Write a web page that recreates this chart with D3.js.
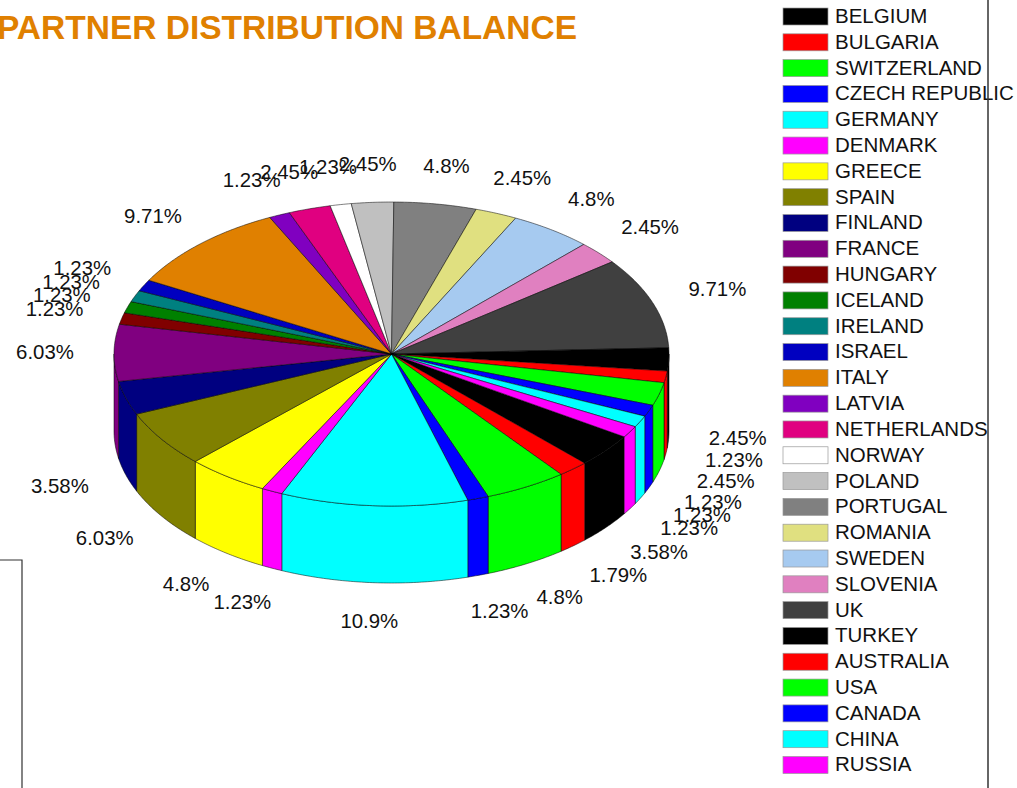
<!DOCTYPE html>
<html>
<head>
<meta charset="utf-8">
<script src="https://cdnjs.cloudflare.com/ajax/libs/d3/7.8.5/d3.min.js"></script>
<style>
    html, body { margin: 0; padding: 0; background: #fff; overflow: hidden; }
    text { font-family: "Liberation Sans", Arial, sans-serif; fill: #111; }
</style>
</head>
<body>
<div id="chart"></div>
<script>
const titleText = "PARTNER DISTRIBUTION BALANCE";

const countries = ["BELGIUM", "BULGARIA", "SWITZERLAND", "CZECH REPUBLIC", "GERMANY", "DENMARK",
    "GREECE", "SPAIN", "FINLAND", "FRANCE", "HUNGARY", "ICELAND", "IRELAND", "ISRAEL", "ITALY",
    "LATVIA", "NETHERLANDS", "NORWAY", "POLAND", "PORTUGAL", "ROMANIA", "SWEDEN", "SLOVENIA", "UK",
    "TURKEY", "AUSTRALIA", "USA", "CANADA", "CHINA", "RUSSIA"];

const shares = [3.58, 1.79, 4.8, 1.23, 10.9, 1.23,
    4.8, 6.03, 3.58, 6.03, 1.23, 1.23, 1.23, 1.23, 9.71,
    1.23, 2.45, 1.23, 2.45, 4.8, 2.45, 4.8, 2.45, 9.71,
    2.45, 1.23, 2.45, 1.23, 1.23, 1.23];

const palette = ["#000000", "#ff0000", "#00ff00", "#0000ff", "#00ffff", "#ff00ff",
    "#ffff00", "#808000", "#000080", "#800080", "#800000", "#008000", "#008080", "#0000c0", "#e08000",
    "#8000c0", "#e00080", "#ffffff", "#c0c0c0", "#808080", "#e0e080", "#a6caf0", "#e080c0", "#404040"];

const width = 1017, height = 788;
const cx = 391.5, cy = 354, rx = 277.5, ry = 152, depth = 77;
const labelRx = rx + 69, labelRy = ry + 38;
const tau = Math.PI * 2;

const svg = d3.select("#chart").append("svg")
    .attr("width", width)
    .attr("height", height)
    .style("display", "block");

const color = d3.scaleOrdinal().domain(countries).range(palette);

// first slice starts 33deg below the 3 o'clock point, going clockwise
const pie = d3.pie().sort(null).value(d => d.share)
    .startAngle((33 + 90) * Math.PI / 180)
    .endAngle((33 + 90 + 360) * Math.PI / 180);

const slices = pie(countries.map((name, i) => ({name: name, share: shares[i]})));

// screen angle, 0 at 3 o'clock and growing clockwise
const toT = a => a - Math.PI / 2;
const rim = (t, dy) => [cx + rx * Math.cos(t), cy + dy + ry * Math.sin(t)];
const line = d3.line();

const arcPoints = (t0, t1, dy) => {
    const n = Math.max(2, Math.ceil(Math.abs(t1 - t0) / 0.01));
    return d3.range(n + 1).map(i => rim(t0 + (t1 - t0) * i / n, dy));
};

// side walls, only the front half of the rim can be seen
const walls = [];
slices.forEach(s => {
    [0, tau].forEach(k => {
        const t0 = Math.max(toT(s.startAngle), k);
        const t1 = Math.min(toT(s.endAngle), k + Math.PI);
        if (t1 > t0) walls.push({name: s.data.name, t0: t0, t1: t1});
    });
});

svg.append("g").selectAll("path")
    .data(walls)
    .join("path")
    .attr("d", d => line(arcPoints(d.t0, d.t1, 0).concat(arcPoints(d.t1, d.t0, depth))) + "Z")
    .attr("fill", d => color(d.name))
    .attr("stroke", "#000")
    .attr("stroke-width", 0.5);

// top face
svg.append("g").selectAll("path")
    .data(slices)
    .join("path")
    .attr("d", d => line([[cx, cy]].concat(arcPoints(toT(d.startAngle), toT(d.endAngle), 0))) + "Z")
    .attr("fill", d => color(d.data.name))
    .attr("stroke", "#000")
    .attr("stroke-width", 0.5);

// percent labels, pushed down by the wall on the front half
svg.append("g").selectAll("text")
    .data(slices)
    .join("text")
    .attr("x", d => cx + labelRx * Math.cos(toT((d.startAngle + d.endAngle) / 2)))
    .attr("y", d => {
        const s = Math.sin(toT((d.startAngle + d.endAngle) / 2));
        return cy + 1.5 + labelRy * s + (s > 0 ? depth : 0);
    })
    .attr("text-anchor", "middle")
    .attr("dominant-baseline", "middle")
    .attr("font-size", 20.4)
    .text(d => d.data.share + "%");

// legend
const legendY = d3.scaleLinear().domain([0, countries.length - 1]).range([16.5, 765]);

const legend = svg.append("g").selectAll("g")
    .data(countries)
    .join("g")
    .attr("transform", (d, i) => "translate(783," + legendY(i) + ")");

legend.append("rect")
    .attr("y", -8.5)
    .attr("width", 45)
    .attr("height", 17)
    .attr("fill", d => color(d))
    .attr("stroke", "#999")
    .attr("stroke-width", 0.7);

legend.append("text")
    .attr("x", 52)
    .attr("y", 1)
    .attr("dominant-baseline", "middle")
    .attr("font-size", 20.5)
    .text(d => d);

// title, cut by the left edge of the page
svg.append("text")
    .attr("x", -3)
    .attr("y", 39)
    .attr("font-size", 33.5)
    .attr("font-weight", "bold")
    .style("fill", "#e08000")
    .text(titleText);

// frame lines left over from the page around the chart
svg.append("path")
    .attr("d", line([[988, 0], [988, height]]))
    .attr("fill", "none")
    .attr("stroke", "#333")
    .attr("stroke-width", 1.5);

svg.append("path")
    .attr("d", line([[0, 560], [22, 560], [22, height]]))
    .attr("fill", "none")
    .attr("stroke", "#333")
    .attr("stroke-width", 1.2);
</script>
</body>
</html>
